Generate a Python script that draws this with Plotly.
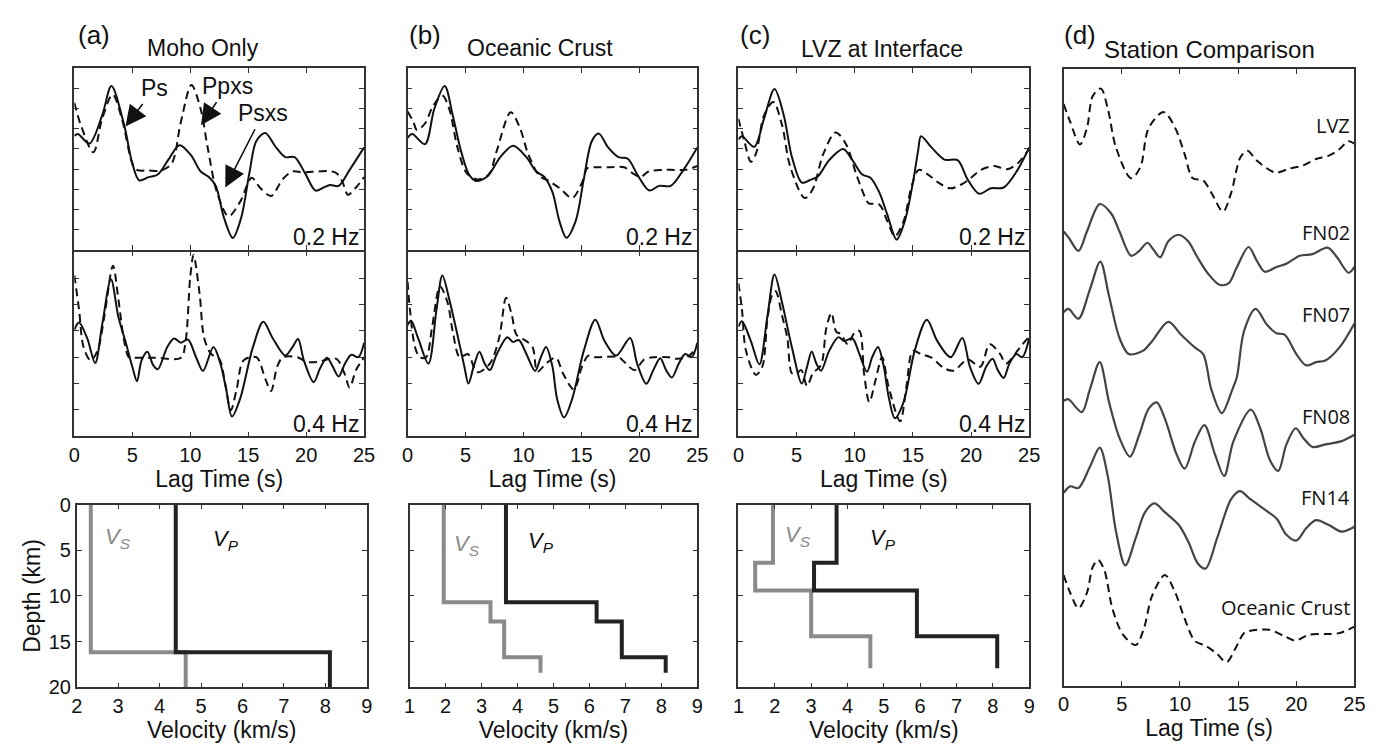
import plotly.graph_objects as go

# reference canvas is 1392x753; the page body keeps its default 8px margin,
# so the figure itself is 16px smaller and all reference pixels shift by 8.
REF_W, REF_H = 1392, 753
OFF = 8
W, H = REF_W - 2 * OFF, REF_H - 2 * OFF
FONT = "Liberation Sans, Arial, sans-serif"
FONT_D = "Open Sans, Noto Sans, sans-serif"

# ---------------- (a) Moho only ----------------
a_hi_obs_t = [0, 0.3, 1.3, 2.4, 3.2, 4.3, 5.0, 5.6, 6.4, 7.2, 8.1, 9.07, 10.06, 10.9, 11.6, 12.2, 12.9, 13.67, 14.4, 15.1, 15.7, 16.47, 17.4, 18.2, 19.0, 19.9, 20.8, 21.5, 22.06, 22.8, 23.75, 25]
a_hi_obs_v = [1.14, 1.23, 0.76, 2.15, 3.60, 1.67, -0.22, -1.06, -0.90, -0.77, -0.05, 0.68, 0.19, -0.62, -0.89, -1.33, -2.89, -3.90, -2.89, -0.70, 0.89, 1.28, 0.57, 0.09, 0.09, -0.70, -1.56, -1.41, -1.29, -1.33, -0.54, 0.57]
a_hi_syn_t = [0, 0.56, 1.64, 2.4, 3.3, 4.1, 5.0, 5.4, 6.4, 7.5, 8.4, 9.2, 10.1, 10.9, 11.5, 12.3, 13.3, 14.3, 15.3, 16.0, 16.97, 17.96, 18.8, 19.7, 22.5, 23.1, 23.6, 24.3, 25]
a_hi_syn_v = [2.78, 1.67, 0.33, 1.99, 3.18, 1.99, -0.22, -0.54, -0.57, -0.57, -0.22, 1.85, 3.65, 2.46, 0.57, -1.64, -2.83, -2.12, -0.93, -1.41, -1.83, -1.01, -0.62, -0.66, -0.66, -1.09, -1.77, -1.41, -0.89]
a_lo_obs_t = [0, 0.4, 1.1, 1.8, 2.4, 3.16, 3.8, 4.4, 5.0, 5.4, 5.8, 6.3, 6.8, 7.2, 8.0, 8.6, 9.2, 9.8, 10.5, 11.1, 12.0, 12.6, 13.1, 13.6, 14.3, 15.4, 16.3, 17.1, 18.2, 18.8, 19.3, 19.8, 20.65, 21.2, 21.8, 22.3, 22.8, 23.35, 23.9, 24.5, 25]
a_lo_obs_v = [0.54, 0.81, 0.23, -0.72, 0.73, 2.45, 1.02, 0.11, -0.86, -1.41, -0.62, -0.29, -0.80, -0.96, -0.13, 0.21, 0.05, 0.17, -0.50, -1.02, -0.11, -0.74, -1.72, -2.75, -2.08, -0.13, 0.84, 0.23, -0.44, -0.13, 0.19, -0.62, -1.45, -0.92, -0.52, -0.86, -1.23, -0.74, -0.41, -0.50, 0.05]
a_lo_syn_t = [0, 0.4, 0.8, 1.4, 2.0, 2.6, 3.33, 3.8, 4.3, 4.7, 5.0, 7.0, 9.2, 9.6, 10.0, 10.28, 10.8, 11.2, 11.8, 12.5, 13.0, 13.5, 14.0, 14.6, 15.7, 16.5, 16.97, 17.5, 18.0, 19.3, 20.0, 21.0, 22.6, 23.3, 23.75, 24.3, 25]
a_lo_syn_v = [2.60, 1.32, -0.13, -0.62, -0.26, 1.08, 2.97, 1.69, 0.11, -0.50, -0.52, -0.52, -0.52, 0.11, 2.54, 3.37, 1.93, 0.23, -0.38, -0.56, -1.47, -2.51, -1.72, -0.62, -0.50, -1.35, -1.78, -0.86, -0.50, -0.51, -0.68, -0.68, -0.56, -1.11, -1.65, -0.99, -0.50]

# ---------------- (b) Oceanic crust ----------------
b_hi_obs_t = [0, 0.4, 1.5, 2.3, 3.2, 3.9, 4.6, 5.3, 5.9, 6.9, 8.0, 9.1, 10.25, 11.1, 11.8, 12.5, 13.1, 13.7, 14.5, 15.2, 15.9, 16.5, 17.3, 18.2, 19.0, 19.9, 20.85, 21.7, 22.7, 23.8, 25]
b_hi_obs_v = [1.04, 1.23, 0.73, 2.46, 3.60, 2.15, 0.41, -0.77, -1.09, -0.85, 0.09, 0.65, 0.09, -0.62, -0.89, -1.64, -3.07, -3.89, -3.07, -1.01, 0.89, 1.25, 0.57, 0.09, 0.01, -0.85, -1.56, -1.33, -1.33, -0.54, 0.57]
b_hi_syn_t = [0, 0.5, 0.8, 1.5, 2.2, 3.0, 3.6, 4.3, 5.1, 6.0, 7.0, 7.7, 8.9, 9.7, 10.4, 11.4, 12.2, 13.2, 14.2, 15.05, 15.5, 16.2, 17.4, 18.7, 19.4, 20.1, 20.8, 22.0, 23.0, 24.0, 25]
b_hi_syn_v = [2.34, 1.83, 1.43, 1.75, 2.62, 3.13, 2.46, 0.57, -0.70, -1.01, -0.77, 0.41, 2.31, 1.52, 0.25, -0.85, -1.09, -1.48, -1.93, -1.17, -0.46, -0.41, -0.41, -0.41, -0.70, -0.89, -0.62, -0.54, -0.54, -0.54, -0.35]
b_lo_obs_t = [0, 0.3, 0.9, 1.8, 2.5, 3.0, 3.6, 4.3, 4.9, 5.25, 5.7, 6.2, 6.65, 7.1, 7.7, 8.6, 9.1, 9.6, 10.25, 11.0, 11.5, 11.95, 12.5, 12.9, 13.5, 14.2, 15.2, 16.2, 17.0, 18.0, 19.2, 19.8, 20.6, 21.2, 21.8, 22.3, 22.8, 23.4, 23.95, 24.5, 25]
b_lo_obs_v = [0.72, 0.88, 0.23, -0.74, 1.32, 2.60, 1.69, 0.35, -0.86, -1.50, -0.86, -0.29, -0.74, -0.99, -0.38, 0.26, 0.08, 0.15, -0.38, -1.02, -0.50, -0.11, -0.86, -2.08, -2.78, -2.08, -0.26, 0.92, 0.11, -0.44, 0.23, -0.74, -1.51, -0.99, -0.54, -0.99, -1.27, -0.74, -0.38, -0.50, 0.05]
b_lo_syn_t = [0, 0.2, 0.65, 1.07, 1.6, 2.1, 2.8, 3.45, 3.9, 4.5, 5.2, 6.0, 7.1, 7.9, 8.5, 9.0, 9.4, 10.25, 10.8, 11.2, 11.95, 12.8, 13.4, 14.35, 15.05, 15.6, 16.2, 18.2, 18.7, 19.6, 20.4, 21.3, 22.5, 23.2, 24.1, 25]
b_lo_syn_v = [2.36, 1.32, -0.13, -0.50, -0.50, 0.59, 2.18, 1.57, 0.47, -0.50, -0.38, -1.07, -0.74, 0.23, 1.75, 1.08, 0.35, 0.11, -0.13, -1.05, -0.74, -0.52, -1.11, -1.72, -0.86, -0.44, -0.50, -0.50, -0.68, -0.99, -0.59, -0.50, -0.50, -0.56, -0.50, -0.13]

# ---------------- (c) LVZ at interface ----------------
c_hi_obs_t = [0, 0.3, 1.35, 2.2, 3.1, 3.9, 4.6, 5.45, 6.15, 6.85, 7.8, 9.0, 9.8, 10.65, 11.35, 12.1, 12.8, 13.6, 14.3, 15.0, 15.45, 15.7, 16.6, 17.7, 18.85, 19.7, 20.7, 21.7, 22.8, 24.0, 25]
c_hi_obs_v = [0.96, 1.12, 0.60, 1.99, 3.45, 2.15, 0.09, -1.17, -1.04, -0.85, -0.06, 0.49, -0.06, -0.77, -0.93, -1.64, -2.75, -3.98, -3.07, -1.17, 0.41, 1.12, 0.57, -0.03, -0.06, -1.01, -1.72, -1.45, -1.41, -0.54, 0.57]
c_hi_syn_t = [0, 0.5, 1.07, 1.5, 2.2, 3.0, 3.75, 4.45, 5.7, 6.4, 7.3, 8.35, 9.25, 10.1, 10.7, 11.2, 12.1, 12.8, 13.45, 14.2, 14.9, 15.5, 16.3, 17.2, 18.2, 19.2, 20.0, 20.85, 22.0, 23.1, 24.0, 25]
c_hi_syn_v = [1.99, 0.89, -0.14, 0.25, 2.15, 2.81, 1.67, -0.38, -1.93, -1.48, 0.25, 1.31, 0.73, -0.70, -1.64, -2.19, -2.24, -3.07, -3.82, -3.07, -1.33, -0.54, -0.77, -1.17, -1.45, -1.25, -0.93, -0.54, -0.35, -0.51, -0.22, 0.49]
c_lo_obs_t = [0, 0.3, 1.07, 1.8, 2.5, 3.1, 3.75, 4.6, 5.45, 5.9, 6.3, 6.7, 7.1, 7.8, 8.6, 9.1, 9.8, 10.4, 11.05, 11.5, 12.0, 12.5, 12.9, 13.45, 14.2, 15.15, 16.2, 17.1, 18.25, 19.25, 19.9, 20.65, 21.3, 21.85, 22.3, 22.8, 23.3, 23.9, 24.4, 25]
c_lo_obs_v = [0.66, 0.86, 0.11, -0.77, 1.08, 2.63, 1.57, -0.13, -1.50, -0.86, -0.28, -0.74, -1.01, -0.26, 0.26, 0.11, 0.21, -0.38, -1.05, -0.50, -0.11, -0.86, -1.96, -2.81, -2.20, -0.26, 0.92, 0.11, -0.50, 0.23, -0.86, -1.51, -0.86, -0.56, -0.99, -1.29, -0.74, -0.38, -0.50, 0.23]
c_lo_syn_t = [0, 0.3, 0.65, 1.5, 2.05, 2.5, 2.9, 3.2, 3.75, 4.2, 4.6, 5.0, 5.4, 5.9, 6.4, 7.1, 7.55, 8.0, 8.4, 8.8, 9.4, 9.95, 10.4, 10.8, 11.25, 11.8, 12.35, 12.9, 13.9, 14.45, 15.0, 15.7, 16.6, 17.7, 18.5, 19.7, 20.8, 21.6, 22.5, 23.0, 24.2, 25]
c_lo_syn_v = [2.30, 1.32, -0.26, -1.17, -0.86, 0.96, 1.87, 2.00, 1.08, 0.23, -1.11, -1.11, -0.99, -1.59, -1.11, -0.80, 0.59, 1.18, 0.47, 0.38, -0.01, 0.41, 0.50, -1.11, -2.20, -1.35, -0.50, -1.59, -2.93, -1.59, -0.26, -0.38, -0.52, -0.92, -1.01, -0.59, -0.86, -0.01, -0.38, -0.74, -0.13, 0.29]

# ---------------- velocity models (layer tops in km, velocities km/s) ----------------
a_depth = [0, 16.15, 20]
a_vs = [2.34, 4.63]
a_vp = [4.39, 8.11]
b_depth = [0, 10.7, 12.8, 16.7, 18.4]
b_vs = [1.95, 3.25, 3.63, 4.64]
b_vp = [3.68, 6.2, 6.9, 8.12]
c_depth = [0, 6.36, 9.4, 14.4, 17.9]
c_vs = [1.95, 1.46, 3.0, 4.63]
c_vp = [3.7, 3.08, 5.91, 8.12]

# ---------------- (d) station comparison ----------------
d_names = ["LVZ", "FN02", "FN07", "FN08", "FN14", "Oceanic Crust"]
d_label_y = [57.9, 46.8, 38.4, 27.8, 19.4, 8.1]
lvz_t = [0, 0.56, 1.4, 2.0, 2.5, 3.2, 3.8, 4.5, 5.8, 6.6, 7.3, 8.6, 9.6, 10.4, 11.1, 12.0, 12.7, 13.7, 14.4, 15.2, 15.8, 16.6, 18.2, 19.4, 20.6, 21.7, 22.8, 23.7, 24.5, 25]
lvz_v = [60.10, 58.27, 55.93, 57.60, 60.93, 61.70, 59.60, 55.60, 52.43, 53.60, 57.60, 59.27, 57.60, 54.93, 52.43, 52.20, 50.93, 49.00, 50.93, 54.60, 55.27, 54.27, 53.03, 53.43, 53.77, 54.43, 54.77, 55.43, 56.27, 56.00]
fn02_t = [0, 0.45, 1.27, 2.0, 3.1, 4.1, 4.8, 5.8, 6.5, 7.2, 7.7, 8.3, 9.0, 9.86, 10.7, 11.5, 12.4, 13.4, 14.2, 14.9, 15.9, 16.6, 17.3, 18.3, 19.15, 20.3, 21.4, 22.7, 23.5, 24.5, 25]
fn02_v = [46.93, 46.27, 44.93, 46.93, 49.77, 48.77, 46.93, 44.43, 44.93, 45.77, 45.10, 44.27, 45.93, 46.60, 45.93, 44.27, 42.60, 41.43, 41.60, 43.27, 45.33, 43.93, 42.77, 43.27, 43.60, 44.43, 44.60, 45.27, 44.27, 42.67, 43.27]
fn07_t = [0, 0.4, 1.27, 2.25, 3.15, 3.9, 4.8, 5.6, 6.8, 7.6, 9.0, 10.1, 11.3, 12.0, 12.7, 13.6, 14.5, 14.9, 15.5, 16.5, 17.5, 18.3, 19.0, 20.0, 20.85, 21.7, 22.5, 23.7, 25]
fn07_v = [38.60, 38.93, 37.93, 40.93, 43.83, 40.27, 35.93, 34.27, 34.60, 35.60, 37.60, 36.27, 34.93, 34.27, 30.60, 28.17, 30.60, 31.93, 36.60, 38.93, 37.27, 36.43, 36.27, 34.27, 33.10, 33.43, 33.60, 34.93, 37.43]
fn08_t = [0, 0.4, 1.55, 2.25, 3.1, 3.9, 4.8, 5.7, 6.5, 7.3, 8.0, 8.7, 9.7, 10.4, 11.3, 12.1, 13.0, 13.8, 14.6, 16.1, 16.9, 17.75, 18.45, 19.15, 19.95, 20.6, 21.4, 22.5, 23.9, 25]
fn08_v = [29.43, 29.60, 28.27, 30.60, 33.43, 29.30, 25.60, 23.67, 25.93, 28.60, 29.27, 27.60, 23.93, 22.43, 25.27, 26.93, 23.93, 21.67, 25.27, 28.53, 26.60, 23.27, 22.20, 24.93, 26.60, 25.60, 24.67, 24.93, 25.27, 25.93]
fn14_t = [0, 0.56, 1.27, 2.25, 3.1, 3.8, 4.5, 5.3, 6.2, 7.0, 7.8, 8.7, 9.9, 10.7, 11.55, 12.2, 13.2, 14.4, 15.15, 16.05, 17.2, 18.3, 19.15, 20.0, 20.85, 21.7, 22.8, 23.9, 25]
fn14_v = [19.93, 20.60, 20.43, 22.60, 24.60, 21.60, 15.93, 12.43, 15.27, 17.93, 18.83, 17.93, 16.60, 14.93, 12.60, 12.10, 15.27, 19.27, 20.10, 19.27, 18.27, 17.27, 15.60, 15.00, 16.27, 17.10, 16.60, 15.93, 16.43]
oc_t = [0, 0.56, 1.27, 2.0, 2.5, 2.96, 3.5, 4.2, 5.1, 6.2, 6.9, 7.6, 8.7, 9.6, 10.4, 11.3, 12.25, 13.2, 14.0, 14.8, 15.5, 16.05, 17.7, 19.0, 19.9, 21.1, 22.5, 23.7, 25]
oc_v = [11.43, 9.60, 8.00, 9.60, 12.27, 13.00, 11.93, 7.93, 5.27, 4.20, 5.93, 9.27, 11.43, 9.60, 6.93, 4.60, 4.10, 3.27, 2.43, 3.93, 5.43, 5.67, 5.77, 5.10, 4.67, 5.27, 5.33, 5.43, 6.10]

lag_ticks = [0, 5, 10, 15, 20, 25]

# ---------------- figure ----------------
fig = go.Figure()

SOLID = dict(color="#111111", width=2, shape="spline", smoothing=0.9)
DASH = dict(color="#111111", width=2, shape="spline", smoothing=0.9, dash="8px,5px")
GRAYS = dict(color="#444444", width=2.2, shape="spline", smoothing=0.9)


def wave(t, v, ax, style):
    fig.add_trace(go.Scatter(x=t, y=v, mode="lines", line=style, xaxis="x" + ax, yaxis="y" + ax,
                             hoverinfo="skip", showlegend=False))


def steps(depth, vel):
    return list(vel) + [vel[-1]], list(depth)


def model(depth, vs, vp, ax):
    xs, ys = steps(depth, vs)
    fig.add_trace(go.Scatter(x=xs, y=ys, mode="lines", line=dict(color="#8a8a8a", width=4, shape="vh"),
                             xaxis="x" + ax, yaxis="y" + ax, hoverinfo="skip", showlegend=False))
    xp, yp = steps(depth, vp)
    fig.add_trace(go.Scatter(x=xp, y=yp, mode="lines", line=dict(color="#222222", width=4, shape="vh"),
                             xaxis="x" + ax, yaxis="y" + ax, hoverinfo="skip", showlegend=False))


wave(a_hi_obs_t, a_hi_obs_v, "", SOLID)
wave(a_hi_syn_t, a_hi_syn_v, "", DASH)
wave(a_lo_obs_t, a_lo_obs_v, "2", SOLID)
wave(a_lo_syn_t, a_lo_syn_v, "2", DASH)
model(a_depth, a_vs, a_vp, "3")
wave(b_hi_obs_t, b_hi_obs_v, "4", SOLID)
wave(b_hi_syn_t, b_hi_syn_v, "4", DASH)
wave(b_lo_obs_t, b_lo_obs_v, "5", SOLID)
wave(b_lo_syn_t, b_lo_syn_v, "5", DASH)
model(b_depth, b_vs, b_vp, "6")
wave(c_hi_obs_t, c_hi_obs_v, "7", SOLID)
wave(c_hi_syn_t, c_hi_syn_v, "7", DASH)
wave(c_lo_obs_t, c_lo_obs_v, "8", SOLID)
wave(c_lo_syn_t, c_lo_syn_v, "8", DASH)
model(c_depth, c_vs, c_vp, "9")
wave(lvz_t, lvz_v, "10", DASH)
wave(fn02_t, fn02_v, "10", GRAYS)
wave(fn07_t, fn07_v, "10", GRAYS)
wave(fn08_t, fn08_v, "10", GRAYS)
wave(fn14_t, fn14_v, "10", GRAYS)
wave(oc_t, oc_v, "10", DASH)

LW = 1.6  # axis line width; plotly draws axis lines just outside the domain


def fx(px):
    return (px - OFF) / W


def fy(py):
    return 1 - (py - OFF) / H


def px_x(a, b):
    return [fx(a + LW / 2), fx(b - LW / 2)]


def px_y(top, bottom):
    return [fy(bottom - LW / 2), fy(top + LW / 2)]


def axis(domain, rng, anchor, **kw):
    d = dict(domain=domain, range=rng, anchor=anchor, showline=True, linecolor="#333333", linewidth=LW,
             mirror="ticks", ticks="inside", ticklen=5, tickwidth=1.4, tickcolor="#333333",
             showgrid=False, zeroline=False, fixedrange=True,
             tickfont=dict(size=20, color="#111111", family=FONT))
    d.update(kw)
    return d


XA = {"a": px_x(68.3, 363.3), "av": px_x(70.7, 366), "b": px_x(405.7, 700.7), "bv": px_x(407.7, 700.7),
      "c": px_x(740.7, 1036.7), "cv": px_x(740.7, 1036.7), "d": px_x(1070, 1366)}
Y_TOP = px_y(57.5, 247)
Y_BOT = px_y(247, 439)
Y_VEL = px_y(507.7, 697.7)
Y_D = px_y(59, 696)

title_font = dict(size=23, color="#111111", family=FONT)
top_ticks = [-3.5, -2.5, -1.5, -0.5, 0.5, 1.5, 2.5, 3.5]
bot_ticks = [-2.5, -1.5, -0.5, 0.5, 1.5, 2.5]

layout_axes = {}
for i, col in [(1, "a"), (4, "b"), (7, "c")]:
    k1 = "" if i == 1 else str(i)
    k2, k3 = str(i + 1), str(i + 2)
    layout_axes["xaxis" + k1] = axis(XA[col], [0, 25], "y" + k1, tickvals=lag_ticks, showticklabels=False)
    layout_axes["yaxis" + k1] = axis(Y_TOP, [-4.5, 4.5], "x" + k1, tickvals=top_ticks, showticklabels=False)
    layout_axes["xaxis" + k2] = axis(XA[col], [0, 25], "y" + k2, tickvals=lag_ticks,
                                     title=dict(text="Lag Time (s)", font=title_font, standoff=0))
    layout_axes["yaxis" + k2] = axis(Y_BOT, [-3.5, 3.5], "x" + k2, tickvals=bot_ticks, showticklabels=False)
    vx = [2, 9] if col == "a" else [1, 9]
    layout_axes["xaxis" + k3] = axis(XA[col + "v"], vx, "y" + k3, dtick=1,
                                     title=dict(text="Velocity (km/s)", font=title_font, standoff=0))
    yv = axis(Y_VEL, [20, 0], "x" + k3, tickvals=[0, 5, 10, 15, 20], showticklabels=(col == "a"))
    if col == "a":
        yv["title"] = dict(text="Depth (km)", font=title_font, standoff=2)
    layout_axes["yaxis" + k3] = yv

layout_axes["xaxis10"] = axis(XA["d"], [0, 25], "y10", tickvals=lag_ticks,
                              title=dict(text="Lag Time (s)", font=title_font, standoff=0))
layout_axes["yaxis10"] = axis(Y_D, [0, 63.7], "x10", ticks="", showticklabels=False)

ann = []


def ptext(text, x, y, size=23, xanchor="center", family=FONT):
    ann.append(dict(text=text, x=fx(x), y=fy(y), xref="paper", yref="paper", showarrow=False,
                    xanchor=xanchor, yanchor="middle", font=dict(size=size, color="#111111", family=family)))


for lab, x in [("(a)", 71), ("(b)", 406), ("(c)", 741), ("(d)", 1069)]:
    ptext(lab, x, 24, size=26, xanchor="left")
ptext("Moho Only", 199, 38)
ptext("Oceanic Crust", 541, 38)
ptext("LVZ at Interface", 887, 39)
ptext("Station Comparison", 1218, 39, size=24)

for right in [359, 696, 1034]:
    ptext("0.2 Hz", right, 233, xanchor="right")
    ptext("0.4 Hz", right, 425, xanchor="right")

# phase labels with arrows in (a): (label, tip t, tip amp, label t, label amp)
arrows = [("Ps", 4.41, 1.60, 6.95, 3.51),
          ("Ppxs", 10.93, 1.66, 13.2, 3.60),
          ("Psxs", 13.02, -1.41, 16.3, 2.27)]
for lab, x, y, tx, ty in arrows:
    ann.append(dict(x=x, y=y, ax=tx, ay=ty, xref="x", yref="y", axref="x", ayref="y", text=lab,
                    showarrow=True, arrowhead=2, arrowsize=2.6, arrowwidth=1.6, arrowcolor="#111111",
                    startstandoff=2, font=dict(size=23, color="#111111", family=FONT)))

# V_S / V_P labels
vlabels = [("3", 3.0, 3.7, 5.61, 3.9), ("6", 2.61, 4.45, 4.66, 4.1), ("9", 2.65, 3.4, 4.98, 3.8)]
for ax, sx, sy, px, py in vlabels:
    ann.append(dict(x=sx, y=sy, xref="x" + ax, yref="y" + ax, showarrow=False,
                    text="<i>V<sub>S</sub></i>", font=dict(size=22, color="#8a8a8a", family=FONT)))
    ann.append(dict(x=px, y=py, xref="x" + ax, yref="y" + ax, showarrow=False,
                    text="<i>V<sub>P</sub></i>", font=dict(size=22, color="#111111", family=FONT)))

for name, yy in zip(d_names, d_label_y):
    ann.append(dict(x=24.75, y=yy, xref="x10", yref="y10", showarrow=False, xanchor="right",
                    text=name, font=dict(size=20, color="#111111", family=FONT_D)))

fig.update_layout(width=W, height=H, margin=dict(l=0, r=0, t=0, b=0), autosize=False,
                  paper_bgcolor="white", plot_bgcolor="white", showlegend=False,
                  font=dict(family=FONT, color="#111111"), annotations=ann, **layout_axes)

fig.write_html("out.html", config={"displayModeBar": False})
